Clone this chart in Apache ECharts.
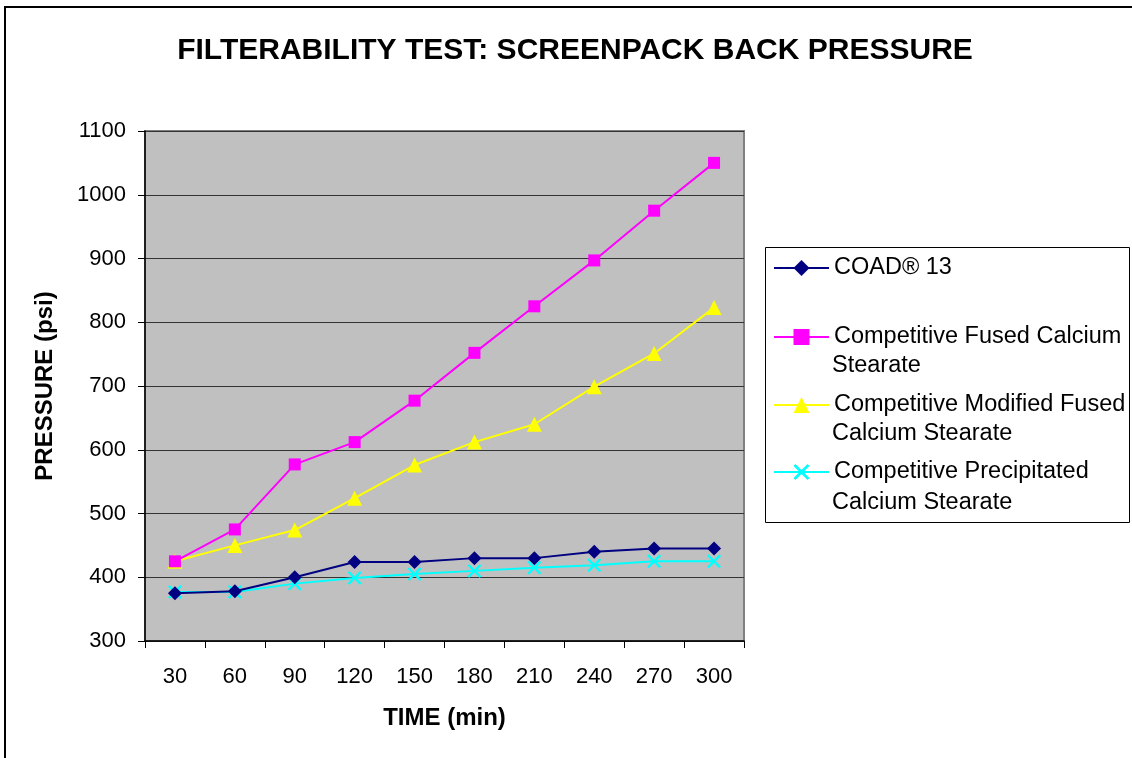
<!DOCTYPE html>
<html>
<head>
<meta charset="utf-8">
<script src="https://cdn.jsdelivr.net/npm/echarts@6/dist/echarts.min.js"></script>
<style>
html,body{margin:0;padding:0;background:#fff;}
#chart{width:1132px;height:758px;}
</style>
</head>
<body>
<div id="chart"></div>
<script>
var categories = ['30','60','90','120','150','180','210','240','270','300'];
var coad13 = [375, 378, 400, 424, 424, 430, 430, 440, 445, 445];
var fused = [425, 475, 577, 612, 677, 752, 825, 897, 975, 1050];
var modifiedFused = [425, 450, 474, 524, 576, 612, 640, 699, 751, 823];
var precipitated = [377, 377, 390, 399, 405, 410, 415, 419, 425, 425];
var seriesNames = ['COAD® 13', 'Competitive Fused Calcium Stearate', 'Competitive Modified Fused Calcium Stearate', 'Competitive Precipitated Calcium Stearate'];
var legendLines = [['COAD® 13', ''], ['Competitive Fused Calcium', 'Stearate'], ['Competitive Modified Fused', 'Calcium Stearate'], ['Competitive Precipitated', 'Calcium Stearate']];
var titleText = 'FILTERABILITY TEST: SCREENPACK BACK PRESSURE';
var xName = 'TIME (min)';
var yName = 'PRESSURE (psi)';

var FONT = '"Liberation Sans", Arial, sans-serif';
var colors = ['#000080', '#FF00FF', '#FFFF00', '#00FFFF'];
var xSymbol = 'path://M0,1.2 L1.2,0 L5,3.8 L8.8,0 L10,1.2 L6.2,5 L10,8.8 L8.8,10 L5,6.2 L1.2,10 L0,8.8 L3.8,5 Z';
var symbols = ['diamond', 'rect', 'triangle', xSymbol];
var symbolSizes = [14, 12, 15, 14];
var dataSets = [coad13, fused, modifiedFused, precipitated];

var chart = echarts.init(document.getElementById('chart'));

var legendTops = [254, 323, 391, 458];
var legends = seriesNames.map(function (n, i) {
  return {
    orient: 'vertical',
    left: 773,
    top: legendTops[i],
    data: [n],
    itemWidth: 55,
    itemHeight: 20,
    padding: 0,
    selectedMode: false,
    formatter: function () { return legendLines[i][0]; },
    textStyle: { fontFamily: FONT, fontSize: 23.5, color: '#000', lineHeight: 28 }
  };
});

var graphics = [
  { type: 'rect', z: -10, shape: { x: 5, y: 7, width: 1140, height: 760 }, style: { fill: '#fff', stroke: '#000', lineWidth: 2 } },
  { type: 'rect', z: 1, shape: { x: 765.5, y: 247.5, width: 364, height: 275 }, style: { fill: 'none', stroke: '#000', lineWidth: 1 } }
];
var secondTops = [365, 433, 502];
[1, 2, 3].forEach(function (i, k) {
  graphics.push({
    type: 'text', left: 832, top: secondTops[k] - 13,
    style: { text: legendLines[i][1], fontFamily: FONT, fontSize: 23.5, fill: '#000', lineHeight: 28 }
  });
});

var option = {
  backgroundColor: '#fff',
  animation: false,
  title: {
    text: titleText,
    left: 575,
    top: 36,
    textAlign: 'center',
    padding: 0,
    textStyle: { fontFamily: FONT, fontSize: 30, fontWeight: 'bold', color: '#000' }
  },
  legend: legends,
  graphic: graphics,
  grid: {
    left: 145, right: 388, top: 131, bottom: 117,
    show: true, backgroundColor: '#C0C0C0', borderColor: '#808080', borderWidth: 2
  },
  xAxis: {
    type: 'category',
    data: categories,
    boundaryGap: true,
    name: xName,
    nameLocation: 'middle',
    nameGap: 65,
    nameTextStyle: { fontFamily: FONT, fontSize: 24, fontWeight: 'bold', color: '#000' },
    axisLine: { lineStyle: { color: '#000', width: 1.5 } },
    axisTick: { show: true, inside: false, length: 7, lineStyle: { color: '#000' } },
    axisLabel: { fontFamily: FONT, fontSize: 22, color: '#000', margin: 25 },
    splitLine: { show: false }
  },
  yAxis: {
    type: 'value',
    min: 300, max: 1100, interval: 100,
    name: yName,
    nameLocation: 'middle',
    nameGap: 88,
    nameRotate: 90,
    nameTextStyle: { fontFamily: FONT, fontSize: 24, fontWeight: 'bold', color: '#000' },
    axisLine: { show: true, lineStyle: { color: '#000', width: 1.5 } },
    axisTick: { show: true, inside: false, length: 7, lineStyle: { color: '#000' } },
    axisLabel: { fontFamily: FONT, fontSize: 22, color: '#000', margin: 19, formatter: function (v) { return String(v); } },
    splitLine: { show: true, lineStyle: { color: '#333', width: 1.2 } }
  },
  series: seriesNames.map(function (n, i) {
    return {
      name: n,
      type: 'line',
      data: dataSets[i],
      symbol: symbols[i],
      symbolSize: symbolSizes[i],
      showAllSymbol: true,
      lineStyle: { color: colors[i], width: 2 },
      itemStyle: { color: colors[i] },
      z: 10 - i
    };
  })
};
chart.setOption(option);
</script>
</body>
</html>
